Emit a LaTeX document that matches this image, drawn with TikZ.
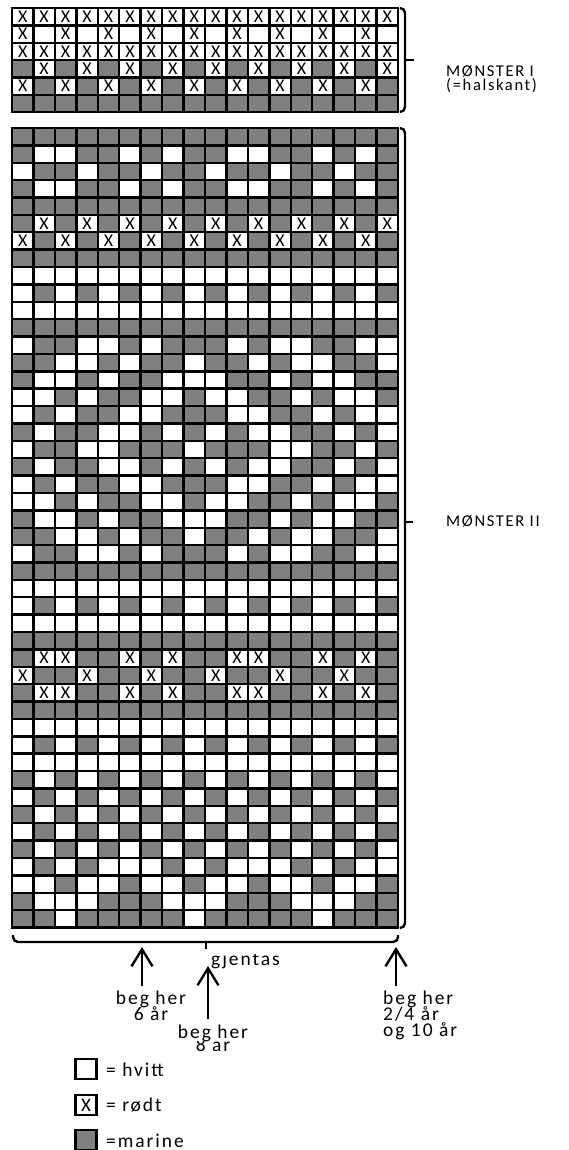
\documentclass[tikz,border=0pt]{standalone}
\usepackage{fontspec}
\setmainfont{Carlito}
\newfontfamily\labfont[LetterSpace=10]{Carlito}
\usetikzlibrary{arrows.meta}
\definecolor{mgray}{RGB}{128,128,128}
\newcommand{\txtX}{X}
\newcommand{\txtW}{}
\newcommand{\txtG}{}
\begin{document}
\begin{tikzpicture}[x=1pt,y=-1pt,
  cellbase/.style={draw=black, line width=2.4pt, minimum width=21.44pt, minimum height=17.37pt,
    inner sep=0pt, outer sep=0pt, font=\fontsize{18}{18}\selectfont, anchor=center},
  cellG/.style={cellbase, fill=mgray},
  cellW/.style={cellbase, fill=white},
  cellX/.style={cellbase, fill=white},
  bracket/.style={line width=2.4pt, rounded corners=5pt},
  arrowup/.style={line width=2.4pt, -{Straight Barb[length=17pt,width=21pt,line width=2.4pt]}},
  lab/.style={font=\labfont\fontsize{19.5}{19.5}\selectfont, inner sep=0pt, anchor=base},
  labw/.style={lab, anchor=base west},
  side/.style={font=\labfont\fontsize{16.5}{16.5}\selectfont, inner sep=0pt, anchor=base west},
  legbox/.style={draw=black, line width=2.6pt, minimum width=21pt, minimum height=20pt,
    inner sep=0pt, font=\fontsize{19}{19}\selectfont},
]
\useasboundingbox (0,0) rectangle (568,1150);
\fill[white] (0,0) rectangle (568,1150);

% ---- Moenster I ----
\foreach \rowlist [count=\ri] in {
 {X,X,X,X,X,X,X,X,X,X,X,X,X,X,X,X,X,X},
 {X,W,X,W,X,W,X,W,X,W,X,W,X,W,X,W,X,W},
 {X,X,X,X,X,X,X,X,X,X,X,X,X,X,X,X,X,X},
 {G,X,G,X,G,X,G,X,G,X,G,X,G,X,G,X,G,X},
 {X,G,X,G,X,G,X,G,X,G,X,G,X,G,X,G,X,G},
 {G,G,G,G,G,G,G,G,G,G,G,G,G,G,G,G,G,G}}
{
  \foreach \cc [count=\ci] in \rowlist {
    \node[cell\cc] (a-\ri-\ci) at ({12+(\ci-0.5)*21.444},{8+(\ri-0.5)*17.37}) {\csname txt\cc\endcsname};
  }
}

% ---- Moenster II ----
\foreach \rowlist [count=\ri] in {
 {G,G,G,G,G,G,G,G,G,G,G,G,G,G,G,G,G,G},
 {G,W,W,G,G,W,G,W,G,G,W,W,G,G,W,G,W,G},
 {W,G,G,W,G,G,W,G,G,W,G,G,W,G,G,W,G,G},
 {G,W,W,G,G,W,G,W,G,G,W,W,G,G,W,G,W,G},
 {G,G,G,G,G,G,G,G,G,G,G,G,G,G,G,G,G,G},
 {G,X,G,X,G,X,G,X,G,X,G,X,G,X,G,X,G,X},
 {X,G,X,G,X,G,X,G,X,G,X,G,X,G,X,G,X,G},
 {G,G,G,G,G,G,G,G,G,G,G,G,G,G,G,G,G,G},
 {W,W,W,W,W,W,W,W,W,W,W,W,W,W,W,W,W,W},
 {W,G,W,G,W,G,W,G,W,G,W,G,W,G,W,G,W,G},
 {W,W,W,W,W,W,W,W,W,W,W,W,W,W,W,W,W,W},
 {G,G,G,G,G,G,G,G,G,G,G,G,G,G,G,G,G,G},
 {W,G,G,W,W,G,W,G,G,G,W,G,W,W,G,G,W,W},
 {G,G,W,W,G,W,G,G,W,G,G,W,G,W,W,G,G,W},
 {G,W,W,G,W,G,G,W,W,W,G,G,W,G,W,W,G,G},
 {W,W,G,W,G,G,W,W,G,W,W,G,G,W,G,W,W,G},
 {W,G,W,G,G,W,W,G,G,G,W,W,G,G,W,G,W,W},
 {G,W,G,G,W,W,G,W,G,W,G,W,W,G,G,W,G,W},
 {W,G,G,W,W,G,G,G,W,G,G,G,W,W,G,G,W,G},
 {G,W,G,G,W,W,G,W,G,W,G,W,W,G,G,W,G,W},
 {W,G,W,G,G,W,W,G,G,G,W,W,G,G,W,G,W,W},
 {W,W,G,W,G,G,W,W,G,W,W,G,G,W,G,W,W,G},
 {G,W,W,G,W,G,G,W,W,W,G,G,W,G,W,W,G,G},
 {G,G,W,W,G,W,G,G,W,G,G,W,G,W,W,G,G,W},
 {W,G,G,W,W,G,W,G,G,G,W,G,W,W,G,G,W,W},
 {G,G,G,G,G,G,G,G,G,G,G,G,G,G,G,G,G,G},
 {W,W,W,W,W,W,W,W,W,W,W,W,W,W,W,W,W,W},
 {W,G,W,G,W,G,W,G,W,G,W,G,W,G,W,G,W,G},
 {W,W,W,W,W,W,W,W,W,W,W,W,W,W,W,W,W,W},
 {G,G,G,G,G,G,G,G,G,G,G,G,G,G,G,G,G,G},
 {G,X,X,G,G,X,G,X,G,G,X,X,G,G,X,G,X,G},
 {X,G,G,X,G,G,X,G,G,X,G,G,X,G,G,X,G,G},
 {G,X,X,G,G,X,G,X,G,G,X,X,G,G,X,G,X,G},
 {G,G,G,G,G,G,G,G,G,G,G,G,G,G,G,G,G,G},
 {W,W,W,W,W,W,W,W,W,W,W,W,W,W,W,W,W,W},
 {W,G,W,G,W,G,W,G,W,G,W,G,W,G,W,G,W,G},
 {W,W,W,W,W,W,W,W,W,W,W,W,W,W,W,W,W,W},
 {G,W,G,W,G,W,G,W,G,W,G,W,G,W,G,W,G,W},
 {W,G,W,G,W,G,W,G,W,G,W,G,W,G,W,G,W,G},
 {G,W,G,W,G,W,G,W,G,W,G,W,G,W,G,W,G,W},
 {W,G,W,G,W,G,W,G,W,G,W,G,W,G,W,G,W,G},
 {G,W,G,W,G,W,G,W,G,W,G,W,G,W,G,W,G,W},
 {W,G,W,G,W,W,W,G,W,G,W,W,W,G,W,G,W,W},
 {W,W,G,W,W,G,W,W,G,W,W,G,W,W,G,W,W,G},
 {G,W,W,W,G,G,G,W,W,W,G,G,G,W,W,W,G,G},
 {G,G,W,G,G,G,G,G,W,G,G,G,G,G,W,G,G,G}}
{
  \foreach \cc [count=\ci] in \rowlist {
    \node[cell\cc] (b-\ri-\ci) at ({12+(\ci-0.5)*21.444},{128+(\ri-0.5)*17.38}) {\csname txt\cc\endcsname};
  }
}

% ---- right brackets ----
\coordinate (t1) at (400,8);   \coordinate (t2) at (405,8);
\coordinate (t3) at (405,112); \coordinate (t4) at (400,112);
\coordinate (tm) at (405,60);  \coordinate (tk) at (414,60);
\draw[bracket] (t1) -- (t2) -- (t3) -- (t4);
\draw[line width=2.4pt] (tm) -- (tk);

\coordinate (m1) at (400,128);  \coordinate (m2) at (405,128);
\coordinate (m3) at (405,928);  \coordinate (m4) at (400,928);
\coordinate (mm) at (405,522);  \coordinate (mk) at (413,522);
\draw[bracket] (m1) -- (m2) -- (m3) -- (m4);
\draw[line width=2.4pt] (mm) -- (mk);

\node[side] (lab1) at (446,77) {MØNSTER I};
\node[side] (lab1b) at (446,91) {(=halskant)};
\node[side] (lab2) at (446,526) {MØNSTER II};

% ---- bottom bracket ----
\coordinate (u1) at (13,935);  \coordinate (u2) at (13,942);
\coordinate (u3) at (398,942); \coordinate (u4) at (398,935);
\coordinate (um) at (206,942); \coordinate (uk) at (206,949);
\draw[bracket] (u1) -- (u2) -- (u3) -- (u4);
\draw[line width=2.4pt] (um) -- (uk);

\begin{scope}
  \clip (205,954.5) rectangle (300,975);
  \node[labw] (gj) at (211,965) {gjentas};
\end{scope}

% ---- arrows ----
\coordinate (a1s) at (142,986);  \coordinate (a1e) at (142,947);
\coordinate (a2s) at (208,1019); \coordinate (a2e) at (208,966);
\coordinate (a3s) at (396,986);  \coordinate (a3e) at (396,947);
\draw[arrowup] (a1s) -- (a1e);
\draw[arrowup] (a2s) -- (a2e);
\draw[arrowup] (a3s) -- (a3e);

\node[lab] (b6a) at (151,1004) {beg her};
\node[lab] (b6b) at (151,1020) {6 år};
\node[lab] (b8b) at (213,1051) {8 år};
\node[lab, fill=white] (b8a) at (213,1038) {beg her};
\node[labw] (b2a) at (383,1004) {beg her};
\node[labw] (b2b) at (383,1020) {2/4 år};
\node[labw] (b2c) at (383,1036) {og 10 år};

% ---- legend ----
\node[legbox, fill=white] (lw) at (86,1069) {};
\node[labw] (lwt) at (106,1076) {= hvitt};
\node[legbox, fill=white] (lx) at (86,1105) {X};
\node[labw] (lxt) at (106,1111) {= rødt};
\node[legbox, fill=mgray] (lg) at (86,1140) {};
\node[labw] (lgt) at (106,1147) {=marine};
\end{tikzpicture}
\end{document}
